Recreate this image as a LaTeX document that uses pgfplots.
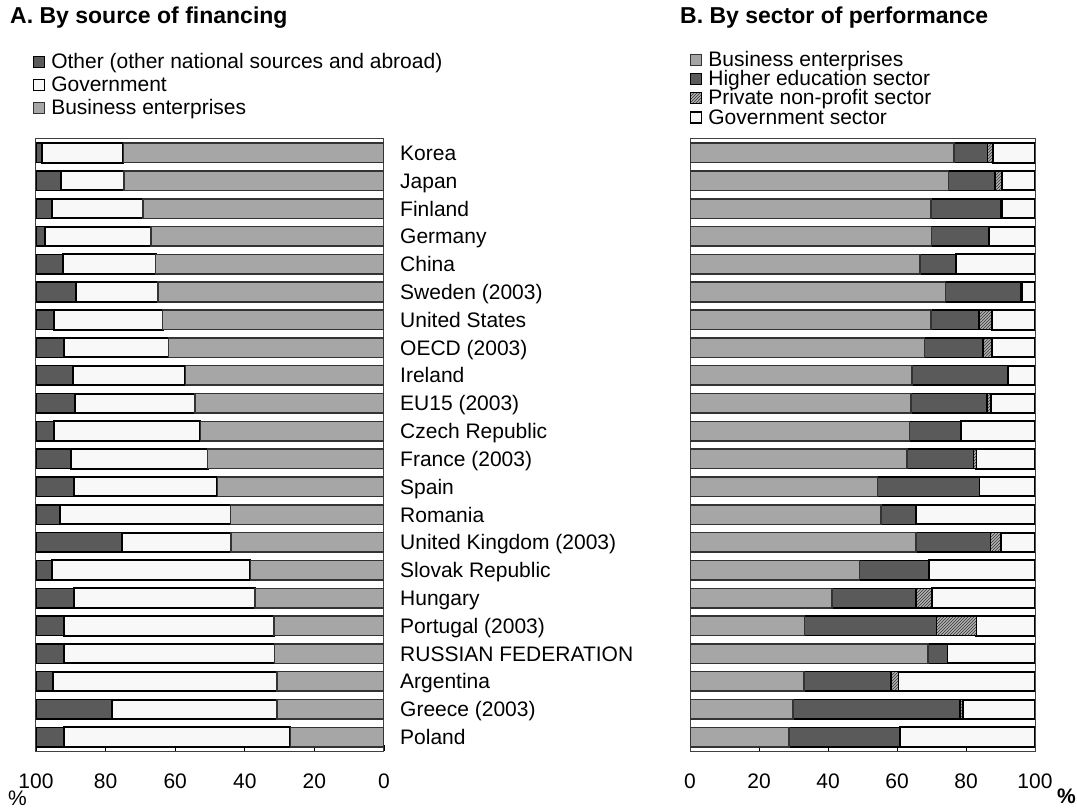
\documentclass[border=0pt]{standalone}
\usepackage{fontspec}
\setmainfont{Liberation Sans}
\usepackage{pgfplots}
\pgfplotsset{compat=1.18}
\usepackage{pgfplotstable}
\usetikzlibrary{patterns}

\definecolor{busgray}{HTML}{A6A6A6}
\definecolor{darkgray}{HTML}{5A5A5A}
\definecolor{offwhite}{HTML}{F8F8F8}

% A. source of financing: business, government, other
\pgfplotstableread{
idx B    G    O
0   74.9 23.3 1.8
1   74.7 18.2 7.1
2   69.2 26.3 4.5
3   67.0 30.5 2.5
4   65.6 26.6 7.8
5   64.9 23.5 11.6
6   63.6 31.1 5.3
7   61.9 30.1 8.0
8   57.1 32.4 10.5
9   54.3 34.4 11.3
10  52.8 41.9 5.3
11  50.7 39.1 10.2
12  47.9 41.2 10.9
13  44.1 48.9 7.0
14  43.9 31.3 24.8
15  38.4 56.9 4.7
16  37.0 52.0 11.0
17  31.6 60.3 8.1
18  31.4 60.6 8.0
19  30.7 64.5 4.8
20  30.7 47.4 21.9
21  26.9 65.1 8.0
}\financing

% B. sector of performance: business, higher education, private non-profit, government
\pgfplotstableread{
idx B    HE   P    G
0   76.5 9.8  1.4  12.3
1   74.9 13.5 2.0  9.6
2   69.8 20.3 0.2  9.7
3   70.0 16.7 0.0  13.3
4   66.7 10.3 0.0  23.0
5   74.1 21.9 0.2  3.8
6   69.8 13.9 3.9  12.4
7   67.9 17.0 2.5  12.6
8   64.4 27.8 0.0  7.8
9   64.0 22.1 1.1  12.8
10  63.6 15.0 0.0  21.4
11  62.9 19.2 0.9  17.0
12  54.4 29.5 0.0  16.1
13  55.3 10.2 0.0  34.5
14  65.5 21.6 3.1  9.8
15  49.1 20.2 0.0  30.7
16  41.1 24.4 4.7  29.8
17  33.2 38.3 11.5 17.0
18  69.0 5.6  0.0  25.4
19  33.0 25.2 2.2  39.6
20  29.9 48.3 1.0  20.8
21  28.7 32.2 0.0  39.1
}\performance

\pgfplotsset{
  panel/.style={
    scale only axis, height=612pt,
    xbar stacked, bar width=19.5pt,
    y dir=reverse, ymin=-0.5, ymax=21.5,
    xmin=0, xmax=100, xtick={0,20,...,100},
    ytick={0,...,21}, ytick style={draw=none},
    xtick pos=bottom, tick align=inside, major tick length=6pt,
    tick style={black, line width=0.8pt},
    axis line style={black!75, line width=1pt},
    xticklabel style={anchor=base, yshift=-37pt},
    /pgf/number format/assume math mode=true,
    legend cell align=left,
    legend style={draw=none, fill=none, inner sep=0pt,
      nodes={inner ysep=0pt, inner xsep=6pt, text height=14pt, text depth=4pt}},
    legend image code/.code={\draw[#1, line width=1.2pt] (0pt,-4pt) rectangle (11pt,7pt);},
  },
  edge/.style={draw=black!80, line width=1.5pt},
}

\begin{document}
\fontsize{21}{25}\selectfont
\begin{tikzpicture}
\useasboundingbox (0,0) rectangle (1077pt,808pt);

\begin{axis}[panel, at={(36pt,57pt)}, anchor=south west, width=348pt,
    x dir=reverse, yticklabel pos=right,
    yticklabel style={anchor=west, xshift=9pt, text height=15pt, text depth=0pt},
    yticklabels={Korea, Japan, Finland, Germany, China, Sweden (2003),
      United States, OECD (2003), Ireland, EU15 (2003), Czech Republic,
      France (2003), Spain, Romania, United Kingdom (2003), Slovak Republic,
      Hungary, Portugal (2003), RUSSIAN FEDERATION, Argentina, Greece (2003), Poland},
    reverse legend,
    legend style={at={(-0.009,1.138)}, anchor=north west, row sep=5pt}]
  \addplot[edge, fill=busgray] table[x=B, y=idx] {\financing};
  \addlegendentry{Business enterprises}
  \addplot[draw=black, line width=2pt, fill=offwhite] table[x=G, y=idx] {\financing};
  \addlegendentry{Government}
  \addplot[edge, draw=black, fill=darkgray] table[x=O, y=idx] {\financing};
  \addlegendentry{Other (other national sources and abroad)}
\end{axis}

\begin{axis}[panel, at={(690pt,57pt)}, anchor=south west, width=345pt,
    yticklabels={},
    legend style={at={(0,1.142)}, anchor=north west, row sep=1.25pt}]
  \addplot[edge, fill=busgray] table[x=B, y=idx] {\performance};
  \addlegendentry{Business enterprises}
  \addplot[edge, draw=black, fill=darkgray] table[x=HE, y=idx] {\performance};
  \addlegendentry{Higher education sector}
  \addplot[edge, draw=black, fill=gray!60, postaction={pattern=north east lines, pattern color=black!80}] table[x=P, y=idx] {\performance};
  \addlegendentry{Private non-profit sector}
  \addplot[draw=black, line width=2pt, fill=offwhite] table[x=G, y=idx] {\performance};
  \addlegendentry{Government sector}
\end{axis}

\node[anchor=west, font=\fontsize{23}{27}\selectfont\bfseries, inner sep=0pt] at (10pt,790pt) {A. By source of financing};
\node[anchor=west, font=\fontsize{23}{27}\selectfont\bfseries, inner sep=0pt] at (680pt,790pt) {B. By sector of performance};
\node[anchor=west, inner sep=0pt] at (8pt,10pt) {\%};
\node[anchor=west, inner sep=0pt, font=\bfseries] at (1057pt,12pt) {\%};
\end{tikzpicture}
\end{document}
